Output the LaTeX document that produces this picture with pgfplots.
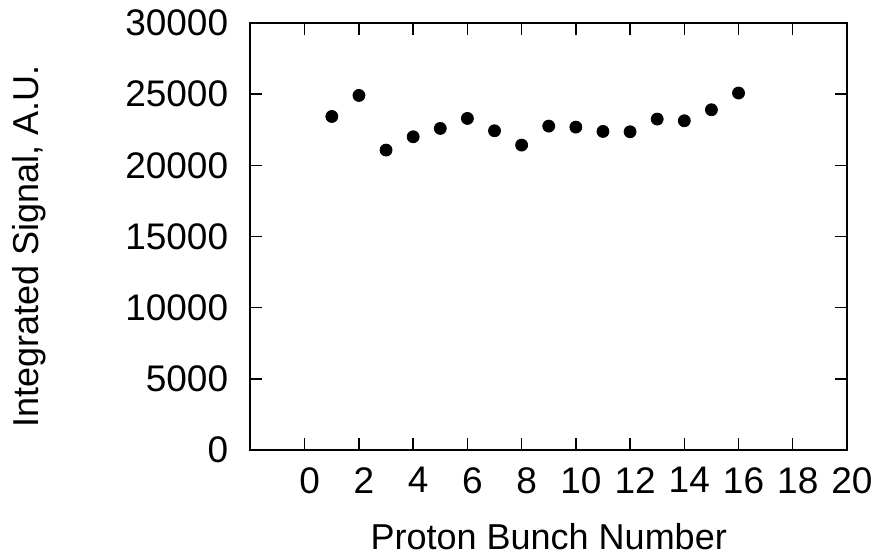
\documentclass[border=0pt]{standalone}
\usepackage{pgfplots}
\pgfplotsset{compat=1.18}
\usepackage{fontspec}
\setmainfont{Liberation Sans}
\begin{document}
\fontsize{18.5}{22}\selectfont
\begin{tikzpicture}
\begin{axis}[
  width=298.25pt, height=213.5pt, scale only axis,
  xmin=-2, xmax=20, ymin=0, ymax=30000,
  xtick={0,2,...,20}, ytick={0,5000,...,30000},
  tick align=inside, major tick length=5.8pt,
  tick style={black, line width=0.7pt},
  axis line style={line width=1pt},
  scaled y ticks=false,
  /pgf/number format/assume math mode=true,
  yticklabel={\pgfmathprintnumber[fixed,precision=0,1000 sep={}]{\tick}},
  xticklabel style={xshift=2.5pt, yshift=-2.3pt},
  yticklabel style={xshift=-4.8pt},
  xlabel={Proton Bunch Number},
  ylabel={Integrated Signal, A.U.},
  xlabel style={yshift=-2.5pt},
  ylabel style={yshift=27pt, xshift=-5pt},
  ticklabel style={font=\fontsize{18.5}{22}\selectfont},
  label style={font=\fontsize{18}{22}\selectfont},
]
\addplot[only marks, mark=*, mark size=3pt, black] coordinates {
(1,23433) (2,24910) (3,21071) (4,22006) (5,22592) (6,23295) (7,22428) (8,21422)
(9,22756) (10,22686) (11,22381) (12,22357) (13,23250) (14,23131) (15,23904) (16,25079)
};
\end{axis}
\pgfresetboundingbox
\path ([xshift=-125.25pt, yshift=-55pt]current axis.south west) rectangle ([xshift=15.5pt, yshift=11.5pt]current axis.north east);
\end{tikzpicture}
\end{document}
